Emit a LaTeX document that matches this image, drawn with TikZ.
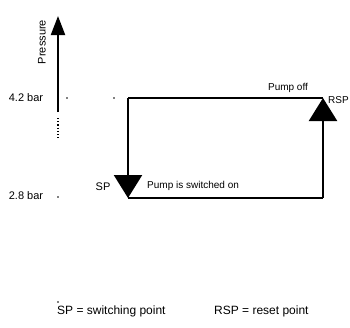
\documentclass[tikz,border=0pt]{standalone}
\usepackage{fontspec}
\setmainfont{Liberation Sans}
\usetikzlibrary{arrows.meta}

\tikzset{
  loop/.style={line width=2.4pt},
  bigtip/.style={-{Triangle[width=28pt,length=23pt]}},
  dot/.style={circle,fill=black,inner sep=0pt,minimum size=1.6pt},
  lbl/.style={inner sep=0pt,font=\fontsize{10}{12}\selectfont}
}

\begin{document}
\begin{tikzpicture}[x=1pt,y=-1pt]
  \useasboundingbox (0,0) rectangle (350,327);
  % pressure axis
  \coordinate (ax0) at (58,112); \coordinate (ax1) at (58,16);
  \draw[line width=2pt,-{Triangle[width=14pt,length=19pt]}] (ax0) -- (ax1);
  \draw[line width=1.2pt,dotted] (58,118) -- (58,139);
  \node[lbl,rotate=90,font=\fontsize{11}{13}\selectfont] (p) at (42,42) {Pressure};
  \node[lbl,font=\fontsize{11}{13}\selectfont] (hi) at (26,98) {4.2 bar};
  \node[lbl,font=\fontsize{11}{13}\selectfont] (lo) at (26,196) {2.8 bar};
  \node[dot] (d1) at (67,98) {};  \node[dot] (d2) at (114,98) {};
  \node[dot] (d3) at (58,197) {}; \node[dot] (d4) at (58,302) {};
  % switching cycle
  \coordinate (tl) at (128,98);  \coordinate (tr) at (323,98);
  \coordinate (bl) at (128,198); \coordinate (br) at (323,198);
  \draw[loop] (tr) -- (tl);
  \draw[loop,bigtip] (tl) -- (bl);
  \draw[loop] (bl) -- (br);
  \draw[loop,bigtip] (br) -- (tr);
  \node[lbl,font=\fontsize{11}{13}\selectfont] (sp) at (103,187) {SP};
  \node[lbl,anchor=east] (rsp) at (349,100) {RSP};
  \node[lbl] (off) at (288,88) {Pump off};
  \node[lbl,anchor=west] (on) at (147,186) {Pump is switched on};
  % legend
  \node[lbl,anchor=west,font=\fontsize{12}{14}\selectfont] (k1) at (57,311) {SP = switching point};
  \node[lbl,anchor=west,font=\fontsize{12}{14}\selectfont] (k2) at (214,311) {RSP = reset point};
\end{tikzpicture}
\end{document}
